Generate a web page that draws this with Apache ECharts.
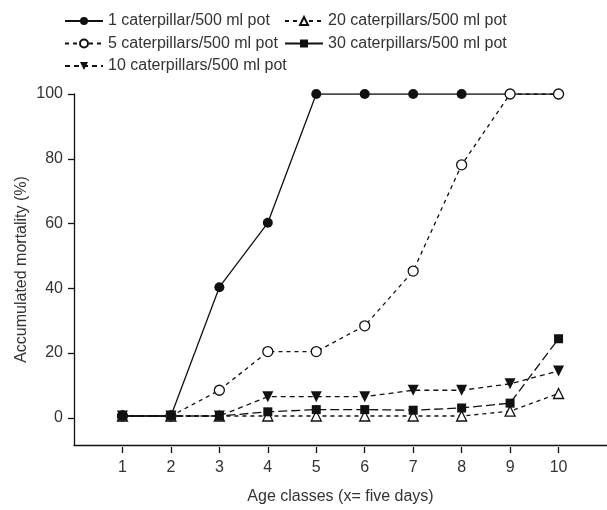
<!DOCTYPE html>
<html>
<head>
<meta charset="utf-8">
<script src="https://cdn.jsdelivr.net/npm/echarts@6/dist/echarts.min.js"></script>
<style>
  html, body { margin: 0; padding: 0; background: #fff; }
  #chart { width: 607px; height: 510px; }
</style>
</head>
<body>
<div id="chart"></div>
<script>
// age classes (x axis) and tick values
const ageClasses = [1, 2, 3, 4, 5, 6, 7, 8, 9, 10]
const yTicks = [0, 20, 40, 60, 80, 100]

// accumulated mortality (%) per density
const pot1 = [0, 0, 40, 60, 100, 100, 100, 100, 100, 100]
const pot5 = [0, 0, 8, 20, 20, 28, 45, 78, 100, 100]
const pot10 = [0, 0, 0, 6, 6, 6, 8, 8, 10, 14]
const pot20 = [0, 0, 0, 0, 0, 0, 0, 0, 1.5, 7]
const pot30 = [0, 0, 0, 1.3, 2, 2, 1.8, 2.5, 4, 24]

const names = [
  '1 caterpillar/500 ml pot',
  '5 caterpillars/500 ml pot',
  '10 caterpillars/500 ml pot',
  '20 caterpillars/500 ml pot',
  '30 caterpillars/500 ml pot'
]

const font = 'Liberation Sans, Arial, sans-serif'
const ink = '#111'
const textColor = '#333'

// plot frame: x runs 0..11 over the grid, y runs -9..100
const xMin = 0
const xMax = 11
const yMin = -9
const yMax = 100

function pairs(values) {
  return ageClasses.map((x, i) => [x, values[i]])
}

const chart = echarts.init(document.getElementById('chart'))

const W = 607
const H = 510
const plotLeft = 74
const plotTop = 94
const plotBottom = 63
const unitX = (W - plotLeft) / (xMax - xMin)
const unitY = (H - plotBottom - plotTop) / (yMax - yMin)

const legendText = {
  fontFamily: font,
  fontSize: 16,
  color: textColor,
  lineHeight: 16
}
const tickText = { fontFamily: font, fontSize: 16, color: textColor }

const series = [pot1, pot5, pot10, pot20, pot30].map((vals, i) => {
  const s = {
    name: names[i],
    type: 'line',
    xAxisIndex: 0,
    yAxisIndex: 0,
    data: pairs(vals),
    lineStyle: { color: ink, width: 1.3, type: [4, 4] }
  }
  return s
})
// markers and line styles per series
Object.assign(series[0], { symbol: 'circle', symbolSize: 10, itemStyle: { color: ink }})
series[0].lineStyle.type = 'solid'
Object.assign(series[1], { symbol: 'circle', symbolSize: 10, itemStyle: { color: '#fff', borderColor: ink, borderWidth: 1.3 }})
Object.assign(series[2], { symbol: 'triangle', symbolRotate: 180, symbolSize: 11, itemStyle: { color: ink }})
series[2].lineStyle.type = [5, 4]
Object.assign(series[3], { symbol: 'triangle', symbolSize: 10, itemStyle: { color: '#fff', borderColor: ink, borderWidth: 1.3 }})
Object.assign(series[4], { symbol: 'rect', symbolSize: 9, itemStyle: { color: ink }})
series[4].lineStyle.type = [9, 4]

chart.setOption({
  animation: false,
  grid: [{
    // main plot with the axis lines
    left: plotLeft,
    right: 0,
    top: plotTop,
    bottom: plotBottom
  }, {
    // tick grid: spans x 1..10 and y 0..100
    left: plotLeft + unitX * (ageClasses[0] - xMin),
    right: W - plotLeft - unitX * (ageClasses[ageClasses.length - 1] - xMin),
    top: plotTop,
    bottom: plotBottom + unitY * (0 - yMin)
  }],
  legend: [{
    data: [names[0], names[1], names[2]],
    orient: 'vertical',
    left: 59,
    top: 8,
    itemWidth: 38,
    itemHeight: 10,
    itemGap: 6.5,
    textStyle: legendText
  }, {
    // legend shows the 30-pot line as solid, the plot uses long dashes
    data: [names[3], { name: names[4], lineStyle: { type: 'solid' }}],
    orient: 'vertical',
    left: 279,
    top: 8,
    itemWidth: 38,
    itemHeight: 10,
    itemGap: 6.5,
    textStyle: legendText
  }],
  xAxis: [{
    gridIndex: 0,
    type: 'value',
    min: xMin,
    max: xMax,
    name: 'Age classes (x= five days)',
    nameLocation: 'middle',
    nameGap: 44,
    nameMoveOverlap: false,
    nameTextStyle: tickText,
    axisLine: { show: true, onZero: false, lineStyle: { color: ink, width: 1.3 }},
    axisTick: { show: false },
    axisLabel: { show: false },
    splitLine: { show: false }
  }, {
    gridIndex: 1,
    type: 'value',
    min: ageClasses[0],
    max: ageClasses[ageClasses.length - 1],
    interval: 1,
    offset: unitY * (0 - yMin),
    axisLine: { show: false, onZero: false },
    axisTick: { show: true, length: 6, lineStyle: { color: ink, width: 1.3 }},
    axisLabel: { margin: 13, ...tickText },
    splitLine: { show: false }
  }],
  yAxis: [{
    gridIndex: 0,
    type: 'value',
    min: yMin,
    max: yMax,
    name: 'Accumulated mortality (%)',
    nameLocation: 'middle',
    nameGap: 44,
    nameMoveOverlap: false,
    nameTextStyle: tickText,
    axisLine: { show: true, onZero: false, lineStyle: { color: ink, width: 1.3 }},
    axisTick: { show: false },
    axisLabel: { show: false },
    splitLine: { show: false }
  }, {
    gridIndex: 1,
    type: 'value',
    min: yTicks[0],
    max: yTicks[yTicks.length - 1],
    interval: 20,
    offset: unitX * (ageClasses[0] - xMin),
    axisLine: { show: false, onZero: false },
    axisTick: { show: true, length: 6, lineStyle: { color: ink, width: 1.3 }},
    axisLabel: { margin: 11, ...tickText },
    splitLine: { show: false }
  }],
  series: series
})
</script>
</body>
</html>
